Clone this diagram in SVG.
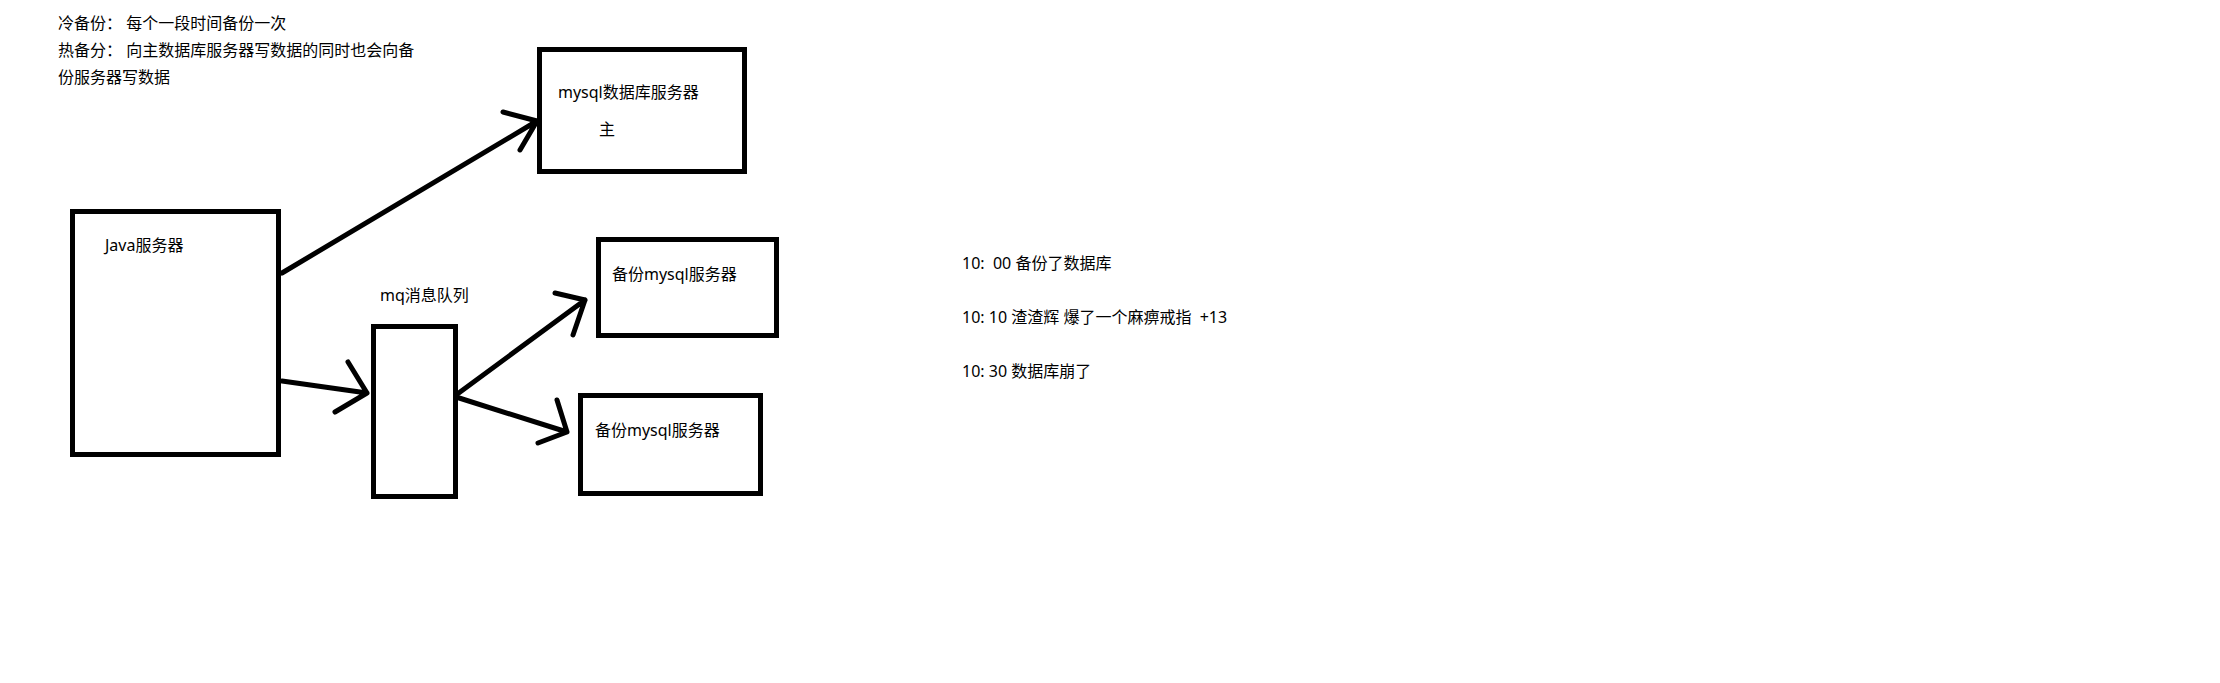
<svg xmlns="http://www.w3.org/2000/svg" width="2220" height="683" viewBox="0 0 2220 683">
<style>
text{font-family:"Noto Sans","Noto Sans CJK SC",sans-serif;font-size:16px;fill:#000;white-space:pre}
.box{fill:none;stroke:#000;stroke-width:5}
.ln{fill:none;stroke:#000;stroke-width:5;stroke-linecap:round;stroke-linejoin:round}
</style>
<rect width="2220" height="683" fill="#fff"/>
<g id="notes">
<text x="58" y="29">冷备份： 每个一段时间备份一次</text>
<text x="58" y="56">热备分： 向主数据库服务器写数据的同时也会向备</text>
<text x="58" y="83">份服务器写数据</text>
</g>
<g id="main-mysql">
<rect class="box" x="539.5" y="49.5" width="205" height="122"/>
<text x="558" y="98">mysql数据库服务器</text>
<text x="599" y="135">主</text>
</g>
<g id="java">
<rect class="box" x="72.5" y="211.5" width="206" height="243"/>
<text x="105" y="251">Java服务器</text>
</g>
<g id="mq">
<rect class="box" x="373.5" y="326.5" width="82" height="170"/>
<text x="380" y="301">mq消息队列</text>
</g>
<g id="backup1">
<rect class="box" x="598.5" y="239.5" width="178" height="96"/>
<text x="612" y="280">备份mysql服务器</text>
</g>
<g id="backup2">
<rect class="box" x="580.5" y="395.5" width="180" height="98"/>
<text x="595" y="436">备份mysql服务器</text>
</g>
<g id="timeline">
<text x="962" y="269">10:  00 备份了数据库</text>
<text x="962" y="323">10: 10 渣渣辉 爆了一个麻痹戒指  +13</text>
<text x="962" y="377">10: 30 数据库崩了</text>
</g>
<g id="connectors">
<path class="ln" d="M282 273 L537 121 M503 112 L537 121 L520 150"/>
<path class="ln" d="M282 381 L367 393 M348 362 L367 393 L335 412"/>
<path class="ln" d="M456 395 L585 300 M555 293 L585 300 L573 335"/>
<path class="ln" d="M456 397 L567 432 M557 400 L567 432 L538 443"/>
</g>
</svg>
